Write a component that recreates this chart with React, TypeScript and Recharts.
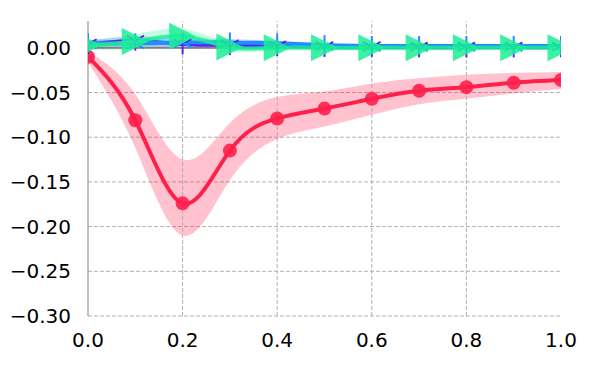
import {
  ComposedChart,
  Line,
  Area,
  XAxis,
  YAxis,
  CartesianGrid,
  ReferenceLine,
} from 'recharts'

const xs = [0, 0.1, 0.2, 0.3, 0.4, 0.5, 0.6, 0.7, 0.8, 0.9, 1.0]

const red = [-0.010, -0.081, -0.174, -0.115, -0.079, -0.068, -0.057, -0.048, -0.044, -0.039, -0.036]
const redHi = [-0.004, -0.052, -0.125, -0.084, -0.055, -0.049, -0.040, -0.034, -0.030, -0.028, -0.027]
const redLo = [-0.016, -0.112, -0.210, -0.148, -0.102, -0.088, -0.075, -0.063, -0.057, -0.051, -0.046]

const purple = [0.004, 0.008, 0.004, 0.003, 0.002, 0.001, 0.001, 0.0005, 0.0005, 0.0005, 0.0005]
const purpleHi = [0.008, 0.013, 0.009, 0.006, 0.004, 0.003, 0.003, 0.002, 0.002, 0.002, 0.002]
const purpleLo = [0.000, 0.003, -0.001, 0.000, 0.000, -0.001, -0.001, -0.001, -0.001, -0.001, -0.001]

const blue = [0.005, 0.005, 0.006, 0.006, 0.005, 0.003, 0.002, 0.002, 0.002, 0.002, 0.002]
const blueHi = [0.009, 0.009, 0.010, 0.010, 0.008, 0.006, 0.004, 0.004, 0.004, 0.004, 0.004]
const blueLo = [0.001, 0.001, 0.002, 0.002, 0.002, 0.000, 0.000, 0.000, 0.000, 0.000, 0.000]

const green = [0.003, 0.007, 0.013, 0.001, 0.000, 0.000, 0.000, 0.000, 0.000, 0.000, 0.000]
const greenHi = [0.008, 0.015, 0.021, 0.006, 0.003, 0.003, 0.003, 0.003, 0.003, 0.002, 0.002]
const greenLo = [-0.002, -0.001, 0.005, -0.004, -0.003, -0.003, -0.003, -0.003, -0.003, -0.002, -0.002]

const xTicks = [0, 0.2, 0.4, 0.6, 0.8, 1.0]
const yTicks = [-0.3, -0.25, -0.2, -0.15, -0.1, -0.05, 0]
const xGrid = [0.2, 0.4, 0.6, 0.8]

const data = xs.map((x, i) => ({
  x,
  red: red[i],
  redBand: [redLo[i], redHi[i]],
  purple: purple[i],
  purpleBand: [purpleLo[i], purpleHi[i]],
  blue: blue[i],
  blueBand: [blueLo[i], blueHi[i]],
  green: green[i],
  greenBand: [greenLo[i], greenHi[i]],
}))

const RED = '#ff1f4b'
const PURPLE = '#5d1fff'
const BLUE = '#1e8fff'
const GREEN = '#1aef95'
const GRID = '#b0b0b0'

const tickStyle = { fontSize: 20, fill: '#000', fontFamily: 'DejaVu Sans' }

function Circle(props: any) {
  const { cx, cy, index } = props
  return <circle key={`r${index}`} cx={cx} cy={cy} r={7} fill={RED} fillOpacity={0.9} />
}

function TriUp(props: any) {
  const { cx, cy, index } = props
  const s = 10
  return (
    <g key={`b${index}`} stroke={BLUE} strokeWidth={2}>
      <line x1={cx} y1={cy} x2={cx} y2={cy - s} />
      <line x1={cx} y1={cy} x2={cx - s * 0.87} y2={cy + s * 0.5} />
      <line x1={cx} y1={cy} x2={cx + s * 0.87} y2={cy + s * 0.5} />
    </g>
  )
}

function TriDown(props: any) {
  const { cx, cy, index } = props
  const s = 10
  return (
    <g key={`p${index}`} stroke={PURPLE} strokeWidth={2}>
      <line x1={cx} y1={cy} x2={cx} y2={cy + s} />
      <line x1={cx} y1={cy} x2={cx - s * 0.87} y2={cy - s * 0.5} />
      <line x1={cx} y1={cy} x2={cx + s * 0.87} y2={cy - s * 0.5} />
    </g>
  )
}

function TriRight(props: any) {
  const { cx, cy, index } = props
  const s = 13.5
  return (
    <polygon
      key={`g${index}`}
      points={`${cx - s},${cy - s} ${cx + s},${cy} ${cx - s},${cy + s}`}
      fill={GREEN}
      fillOpacity={0.85}
    />
  )
}

export default function App() {
  return (
    <div style={{ position: 'absolute', left: 0, top: 0 }}>
      <ComposedChart
        width={600}
        height={375}
        data={data}
        margin={{ top: 21, right: 39, bottom: 29, left: 0 }}
      >
        <CartesianGrid stroke={GRID} strokeDasharray="4 2" horizontalValues={yTicks} vertical={false} />
        {xGrid.map((v) => (
          <ReferenceLine key={v} x={v} stroke={GRID} strokeDasharray="4 2" />
        ))}
        <XAxis
          dataKey="x"
          type="number"
          domain={[0, 1]}
          ticks={xTicks}
          allowDataOverflow
          tickFormatter={(v: number) => v.toFixed(1)}
          tick={tickStyle}
          axisLine={false}
          tickLine={false}
          tickSize={6}
          tickMargin={11}
          height={30}
        />
        <YAxis
          type="number"
          domain={[-0.3, 0.03]}
          ticks={yTicks}
          allowDataOverflow
          tickFormatter={(v: number) => (v < 0 ? '\u2212' + Math.abs(v).toFixed(2) : v.toFixed(2))}
          tick={tickStyle}
          axisLine={{ stroke: '#808080', strokeWidth: 1 }}
          tickLine={false}
          tickSize={6}
          tickMargin={11}
          width={88}
        />
        <ReferenceLine y={0} stroke="#808080" strokeWidth={2} />
        <Area dataKey="redBand" type="natural" stroke="none" fill={RED} fillOpacity={0.27} isAnimationActive={false} />
        <Line dataKey="red" type="natural" stroke={RED} strokeWidth={4} dot={Circle} activeDot={false} isAnimationActive={false} />
        <Area dataKey="purpleBand" type="natural" stroke="none" fill={PURPLE} fillOpacity={0.2} isAnimationActive={false} />
        <Line dataKey="purple" type="natural" stroke={PURPLE} strokeWidth={3.5} dot={TriDown} activeDot={false} isAnimationActive={false} />
        <Area dataKey="blueBand" type="natural" stroke="none" fill={BLUE} fillOpacity={0.25} isAnimationActive={false} />
        <Line dataKey="blue" type="natural" stroke={BLUE} strokeWidth={4} dot={TriUp} activeDot={false} isAnimationActive={false} />
        <Area dataKey="greenBand" type="natural" stroke="none" fill={GREEN} fillOpacity={0.25} isAnimationActive={false} />
        <Line dataKey="green" type="natural" stroke={GREEN} strokeOpacity={0.85} strokeWidth={4} dot={TriRight} activeDot={false} isAnimationActive={false} />
      </ComposedChart>
    </div>
  )
}
